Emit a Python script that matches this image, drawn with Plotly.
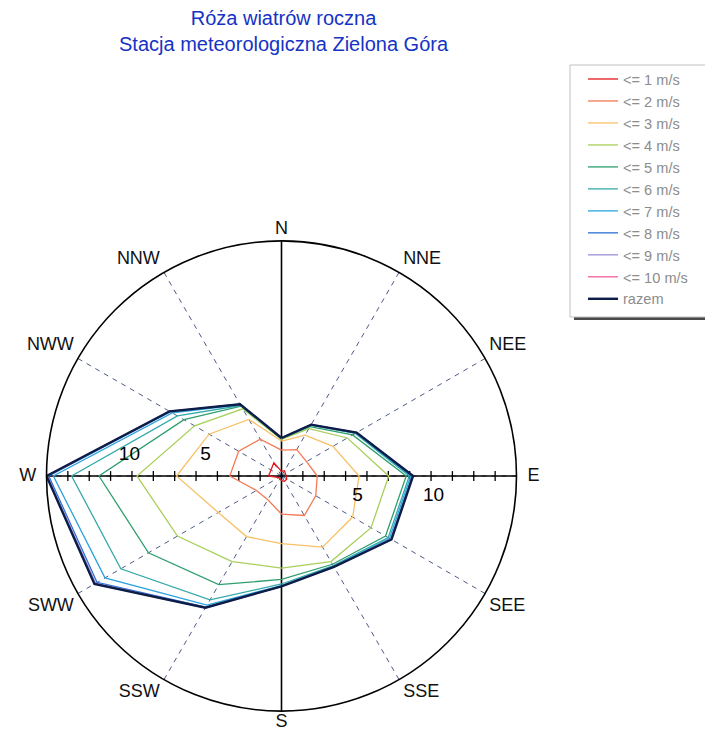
import plotly.graph_objects as go

directions = ["N", "NNE", "NEE", "E", "SEE", "SSE", "S", "SSW", "SWW", "W", "NWW", "NNW"]
angles = [0, 30, 60, 90, 120, 150, 180, 210, 240, 270, 300, 330]
label_pos = ["top center", "top right", "top right", "middle right", "bottom right", "bottom right",
             "bottom center", "bottom left", "bottom left", "middle left", "top left", "top left"]
label_pad = [2, 5, 5, 16, 5, 5, 2, 5, 5, 15, 5, 5]

series_names = ["<= 1 m/s", "<= 2 m/s", "<= 3 m/s", "<= 4 m/s", "<= 5 m/s",
                "<= 6 m/s", "<= 7 m/s", "<= 8 m/s", "<= 9 m/s", "<= 10 m/s", "razem"]

le1 = [0.3, 0.4, 0.3, 0.3, 0.4, 0.4, 0.3, 0.2, 0.2, 0.85, 0.8, 1.0]
le2 = [1.7, 2.0, 1.9, 2.35, 2.6, 3.0, 2.5, 1.8, 1.9, 3.4, 3.25, 2.8]
le3 = [2.3, 3.1, 3.9, 5.1, 5.4, 5.4, 4.45, 4.6, 4.8, 6.9, 5.5, 4.3]
le4 = [2.4, 3.6, 5.0, 7.05, 6.8, 6.5, 6.05, 6.5, 7.9, 9.5, 6.6, 5.1]
le5 = [2.45, 3.75, 5.4, 8.2, 7.9, 6.7, 6.8, 8.25, 10.1, 12.0, 7.4, 5.3]
le6 = [2.5, 3.85, 5.6, 8.4, 8.1, 6.8, 7.1, 9.4, 12.2, 13.8, 7.9, 5.35]
le7 = [2.5, 3.9, 5.65, 8.5, 8.2, 6.85, 7.2, 9.8, 13.4, 15.0, 8.3, 5.4]
le8 = [2.5, 3.9, 5.7, 8.6, 8.3, 6.9, 7.25, 9.95, 14.0, 15.3, 8.45, 5.45]
le9 = [2.5, 3.9, 5.7, 8.65, 8.3, 6.9, 7.25, 10.0, 14.1, 15.4, 8.5, 5.45]
le10 = [2.5, 3.9, 5.7, 8.65, 8.35, 6.9, 7.25, 10.0, 14.2, 15.45, 8.5, 5.45]
razem = [2.5, 3.9, 5.7, 8.65, 8.35, 6.9, 7.25, 10.0, 14.2, 15.45, 8.5, 5.45]

all_series = [le1, le2, le3, le4, le5, le6, le7, le8, le9, le10, razem]
colors = ["#e4161c", "#f47a55", "#f8c067", "#a9cf5b", "#2e9e6e", "#35a9a9",
          "#2aa3dc", "#2a6fd6", "#a08fd8", "#ef5d9c", "#0c1d48"]
widths = [1.3, 1.3, 1.3, 1.3, 1.3, 1.3, 1.3, 1.3, 1.3, 1.3, 2.4]

radial_labels = [5, 10]

rmax = max(razem)
n_ticks = 11
tick_r = [rmax * k / n_ticks for k in range(1, n_ticks)]

FONT = "Liberation Sans, Arial, sans-serif"

fig = go.Figure()

# solid N-S and E-W axes
fig.add_trace(go.Scatterpolar(r=[rmax, 0, rmax], theta=[0, 0, 180], mode="lines",
                              line=dict(color="black", width=1.6), showlegend=False,
                              hoverinfo="skip"))
fig.add_trace(go.Scatterpolar(r=[rmax, 0, rmax], theta=[90, 90, 270], mode="lines",
                              line=dict(color="black", width=1.6), showlegend=False,
                              hoverinfo="skip"))
# axis tick marks
fig.add_trace(go.Scatterpolar(r=tick_r + tick_r, theta=[90] * len(tick_r) + [270] * len(tick_r),
                              mode="markers",
                              marker=dict(symbol="line-ns", size=7,
                                          line=dict(color="black", width=1.3)),
                              showlegend=False, hoverinfo="skip"))

for name, vals, col, w in zip(series_names, all_series, colors, widths):
    fig.add_trace(go.Scatterpolar(
        r=vals + [vals[0]], theta=angles + [angles[0]], mode="lines",
        name=name, line=dict(color=col, width=w)))

# radial labels (left above, right below)
fig.add_trace(go.Scatterpolar(r=radial_labels, theta=[270] * len(radial_labels),
                              mode="markers+text", text=[str(v) for v in radial_labels],
                              textposition="top center",
                              marker=dict(size=16, opacity=0),
                              textfont=dict(size=19, color="black", family=FONT),
                              showlegend=False, hoverinfo="skip"))
fig.add_trace(go.Scatterpolar(r=radial_labels, theta=[90] * len(radial_labels),
                              mode="markers+text", text=[str(v) for v in radial_labels],
                              textposition="bottom center",
                              marker=dict(size=16, opacity=0),
                              textfont=dict(size=19, color="black", family=FONT),
                              showlegend=False, hoverinfo="skip"))

# direction labels anchored on the outer circle
fig.add_trace(go.Scatterpolar(r=[rmax] * len(angles), theta=angles,
                              mode="markers+text", text=directions,
                              textposition=label_pos, cliponaxis=False,
                              marker=dict(size=label_pad, opacity=0),
                              textfont=dict(size=18, color="#111111", family=FONT),
                              showlegend=False, hoverinfo="skip"))

fig.update_layout(
    width=713, height=731,
    margin=dict(l=0, r=0, t=0, b=0),
    paper_bgcolor="white",
    font=dict(family=FONT, color="black"),
    polar=dict(
        domain=dict(x=[38.5 / 713, 508.5 / 713], y=[1 - 703 / 731, 1 - 233 / 731]),
        bgcolor="white",
        radialaxis=dict(visible=False, range=[0, rmax]),
        angularaxis=dict(direction="clockwise", rotation=90,
                         tickmode="array", tickvals=angles, ticktext=directions,
                         showticklabels=False,
                         ticks="", showline=True, linecolor="black", linewidth=1.6,
                         showgrid=True, gridcolor="#4d5b86", gridwidth=1.3, griddash="5px,5px"),
    ),
    legend=dict(x=575 / 713, y=1 - 55 / 731, xanchor="left", yanchor="top",
                bgcolor="rgba(0,0,0,0)", borderwidth=0,
                itemwidth=30,
                font=dict(size=14.6, color="#8c8c8c", family=FONT),
                tracegroupgap=0),
    shapes=[
        dict(type="rect", xref="paper", yref="paper", layer="below",
             x0=566 / 713, x1=713 / 713, y0=1 - 312 / 731, y1=1 - 61 / 731,
             fillcolor="#4a4a4a", line=dict(width=0)),
        dict(type="rect", xref="paper", yref="paper", layer="below",
             x0=562 / 713, x1=702 / 713, y0=1 - 309 / 731, y1=1 - 57 / 731,
             fillcolor="white", line=dict(color="#c0c0c0", width=1)),
    ],
    annotations=[dict(text="Róża wiatrów roczna<br>Stacja meteorologiczna Zielona Góra",
                      xref="paper", yref="paper", x=276 / 713, y=1 + 3 / 731,
                      xanchor="center", yanchor="top", showarrow=False, align="center",
                      font=dict(size=20, color="#1533c4", family=FONT))],
)

fig.write_html("out.html")
